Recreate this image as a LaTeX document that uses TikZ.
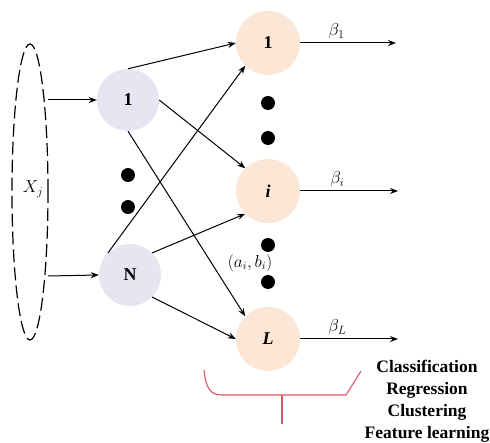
\documentclass[tikz,border=0pt]{standalone}
\usepackage{fontspec}
\setmainfont{Liberation Serif}
\usetikzlibrary{arrows.meta,shapes.geometric}
\definecolor{hidfill}{RGB}{231,229,241}
\definecolor{outfill}{RGB}{252,231,214}
\definecolor{brk}{RGB}{222,84,104}
\begin{document}
\begin{tikzpicture}[x=1pt,y=-1pt,
  hid/.style={circle,fill=hidfill,minimum size=62pt,inner sep=0pt,font=\fontsize{18}{20}\selectfont\bfseries},
  outn/.style={circle,fill=outfill,minimum size=64pt,inner sep=0pt,font=\fontsize{18}{20}\selectfont\bfseries},
  conn/.style={-{Stealth[length=8pt,width=6pt]},line width=1pt},
  dotn/.style={circle,fill=black,minimum size=14pt,inner sep=0pt},
  lbl/.style={font=\fontsize{16}{18}\selectfont},
  blbl/.style={font=\fontsize{18}{20}\selectfont},
  task/.style={font=\fontsize{17.5}{22}\selectfont\bfseries}]
\useasboundingbox (0,0) rectangle (490,443);
% input ellipse
\node[draw,ellipse,dashed,dash pattern=on 13pt off 5pt,line width=1.2pt,minimum width=36pt,minimum height=296pt,inner sep=0pt] (inp) at (30,192) {};
\node[blbl,fill=white,inner sep=1pt] (xj) at (33,189) {$X_j$};
\coordinate (in1) at (48,100);
\coordinate (inN) at (48,276);
% hidden nodes
\node[hid] (h1) at (128,100) {1};
\node[hid] (hN) at (130,275) {N};
\node[dotn] (hd1) at (128,175) {};
\node[dotn] (hd2) at (128,207) {};
% output nodes
\node[outn] (o1) at (268,43) {1};
\node[outn] (oi) at (268,191) {\itshape i};
\node[outn] (oL) at (268,339) {\itshape L};
\node[dotn] (od1) at (268,103) {};
\node[dotn] (od2) at (268,138) {};
\node[dotn] (od3) at (268,245) {};
\node[dotn] (od4) at (268,282) {};
% input arrows
\draw[conn] (in1) -- (h1.west);
\draw[conn] (inN) -- (hN.west);
% hidden to output
\draw[conn] (h1.north) -- (o1.west);
\draw[conn] (h1.east) -- (oi.north west);
\draw[conn] (h1.south) -- (oL.north west);
\draw[conn] (hN.north west) -- (o1.south west);
\draw[conn] (hN.north east) -- (oi.south west);
\draw[conn] (hN.south east) -- (oL.west);
\node[lbl] (ab) at (250,263) {$(a_i,b_i)$};
% output arrows
\coordinate (e1) at (396,43);
\coordinate (ei) at (398,191);
\coordinate (eL) at (398,339);
\draw[conn] (o1.east) -- (e1) node[pos=0.38,above,blbl,yshift=0pt] (b1) {$\beta_1$};
\draw[conn] (oi.east) -- (ei) node[pos=0.38,above,blbl,yshift=0pt] (bi) {$\beta_i$};
\draw[conn] (oL.east) -- (eL) node[pos=0.38,above,blbl,yshift=0pt] (bL) {$\beta_L$};
% bracket
\coordinate (bl) at (204,370);
\coordinate (br) at (361,371);
\coordinate (bm) at (282,395);
\draw[brk,line width=1.1pt] (bl) .. controls (206,388) and (210,395) .. (222,395) -- (346,395) -- (br);
\draw[brk,line width=1.1pt] (bm) -- (282,424);
% tasks
\node[task,align=center,inner sep=0pt] (tasks) at (427,401) {Classification\\Regression\\Clustering\\Feature learning};
\end{tikzpicture}
\end{document}
